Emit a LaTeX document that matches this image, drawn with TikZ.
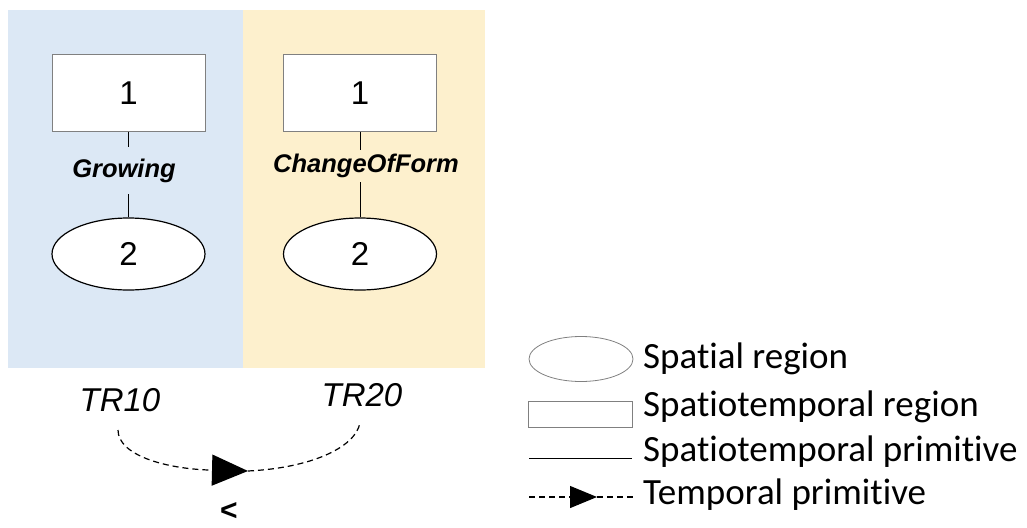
\documentclass[tikz,border=0pt]{standalone}
\usepackage{fontspec}
\setmainfont{Liberation Sans}
\newfontfamily\legfont[Ligatures=NoCommon]{Carlito}
\usetikzlibrary{shapes.geometric,arrows.meta}
\definecolor{panelblue}{HTML}{DCE8F5}
\definecolor{panelyellow}{HTML}{FDF0CD}
\definecolor{boxgray}{HTML}{808080}
\tikzset{
  strbox/.style={draw=boxgray,line width=1pt,fill=white,minimum width=153pt,minimum height=76pt,inner sep=0pt,font=\fontsize{33}{38}\selectfont},
  spreg/.style={ellipse,draw=black,line width=1.2pt,fill=white,minimum width=153pt,minimum height=72pt,inner sep=0pt,font=\fontsize{33}{38}\selectfont},
  primlab/.style={inner sep=0pt,font=\fontsize{25.5}{30}\selectfont\bfseries\itshape},
  trlab/.style={inner sep=0pt,font=\fontsize{33}{38}\selectfont\itshape},
  conn/.style={draw=black,line width=1pt},
  tempconn/.style={draw=black,line width=1.2pt,dash pattern=on 6pt off 4pt},
  legtext/.style={anchor=west,inner sep=0pt,font=\legfont\fontsize{37}{42}\selectfont},
}
\begin{document}
\begin{tikzpicture}[x=1pt,y=-1pt]
\useasboundingbox (0,0) rectangle (1027,527);
% panels
\fill[panelblue] (8,10) rectangle (243,368);
\fill[panelyellow] (243,10) rectangle (485,368);
% left panel
\node[strbox] (r1) at (128.5,93) {1};
\node[spreg] (e1) at (128.5,254) {2};
\node[primlab,minimum height=47pt] (g1) at (124,170.5) {Growing};
\draw[conn] (r1.south) -- (g1.north -| r1.south);
\draw[conn] (g1.south -| e1.north) -- (e1.north);
% right panel
\node[strbox] (r2) at (360,93) {1};
\node[spreg] (e2) at (360,254) {2};
\node[primlab,minimum height=32pt] (g2) at (366,166) {ChangeOfForm};
\draw[conn] (r2.south) -- (g2.north -| r2.south);
\draw[conn] (g2.south -| e2.north) -- (e2.north);
% temporal
\node[trlab] (t1) at (120,400) {TR10};
\node[trlab] (t2) at (362,395) {TR20};
\coordinate (c1) at (118,430);
\coordinate (c2) at (360,423);
\coordinate (tip) at (248,471);
\draw[tempconn,-{Triangle[length=36pt,width=31pt]}] (c1) .. controls (118,455) and (165,469) .. (tip);
\draw[tempconn] (tip) .. controls (310,468) and (355,448) .. (c2);
\node[inner sep=0pt,font=\fontsize{30}{34}\selectfont\bfseries] (lt) at (229,511) {<};
% legend
\node[ellipse,draw=boxgray,line width=0.8pt,minimum width=104pt,minimum height=45pt,inner sep=0pt] (le) at (581,359) {};
\node[legtext] (lte) at (643,359) {Spatial region};
\node[draw=boxgray,line width=0.8pt,minimum width=104pt,minimum height=26pt,inner sep=0pt] (lr) at (580,414) {};
\node[legtext] (ltr) at (643,407) {Spatiotemporal region};
\coordinate (la) at (529,458);
\coordinate (lb) at (632,458);
\draw[conn] (la) -- (lb);
\node[legtext] (ltl) at (643,452) {Spatiotemporal primitive};
\coordinate (ld1) at (529,497);
\coordinate (ldt) at (597,497);
\coordinate (ld2) at (633,497);
\draw[tempconn,-{Triangle[length=27pt,width=22pt]}] (ld1) -- (ldt);
\draw[tempconn] (ldt) -- (ld2);
\node[legtext] (ltt) at (643,495) {Temporal primitive};
\end{tikzpicture}
\end{document}
